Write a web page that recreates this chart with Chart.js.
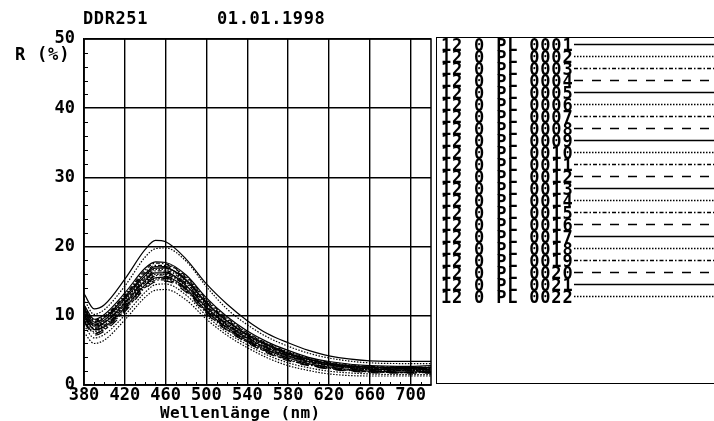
<!DOCTYPE html>
<html>
<head>
<meta charset="utf-8">
<script src="https://cdn.jsdelivr.net/npm/chart.js@4.4.1/dist/chart.umd.min.js"></script>
<style>
  html, body { margin:0; padding:0; background:#fff; }
  #wrap { position:relative; width:714px; height:421px; overflow:hidden; font-family:"DejaVu Sans Mono", monospace; font-weight:bold; color:#000; }
  #c { position:absolute; left:0; top:0; }
  .txt { position:absolute; white-space:pre; font-size:17px; line-height:17px; }
  #legend { position:absolute; left:436px; top:37px; width:300px; height:347px; border:1.5px solid #000; box-sizing:border-box; }
  .row { position:absolute; left:0; height:12px; width:300px; }
  .row span { position:absolute; left:4px; top:0; font-size:17px; line-height:12px; letter-spacing:0.8px; white-space:pre; }
  .row svg { position:absolute; left:137px; top:0; }
</style>
</head>
<body>
<div id="wrap">
  <canvas id="c" width="714" height="421"></canvas>
  <div class="txt" style="left:83px; top:10px; letter-spacing:0.6px;">DDR251</div>
  <div class="txt" style="left:217px; top:10px; letter-spacing:0.6px;">01.01.1998</div>
  <div class="txt" style="left:15px; top:46px; letter-spacing:0.8px;">R (%)</div>
  <div class="txt" style="left:160px; top:404px; font-size:16px; letter-spacing:0.4px;">Wellenlänge (nm)</div>
  <div id="legend"></div>
</div>
<script>
// ---- data ----
const wavelengths = [380, 390, 400, 420, 440, 450, 460, 480, 500, 520, 540, 560, 580, 600, 620, 660, 700, 720];

const seriesLabels = [
  '12 0 PL 0001', '12 0 PL 0002', '12 0 PL 0003', '12 0 PL 0004', '12 0 PL 0005', '12 0 PL 0006',
  '12 0 PL 0007', '12 0 PL 0008', '12 0 PL 0009', '12 0 PL 0010', '12 0 PL 0011', '12 0 PL 0012',
  '12 0 PL 0013', '12 0 PL 0014', '12 0 PL 0015', '12 0 PL 0016', '12 0 PL 0017', '12 0 PL 0018',
  '12 0 PL 0019', '12 0 PL 0020', '12 0 PL 0021', '12 0 PL 0022'
];

const s01 = [13.2, 11.0, 11.6, 15.3, 19.6, 20.9, 20.7, 18.2, 14.6, 11.7, 9.3, 7.4, 6.1, 5.0, 4.2, 3.5, 3.4, 3.4];
const s02 = [12.4, 10.2, 10.9, 14.3, 18.5, 19.7, 19.8, 17.9, 14.2, 11.0, 8.7, 6.9, 5.6, 4.6, 3.9, 3.2, 3.1, 3.1];
const s03 = [11.5, 9.4, 9.9, 12.9, 16.3, 17.3, 17.3, 15.5, 12.2, 9.5, 7.5, 5.9, 4.7, 3.8, 3.2, 2.6, 2.5, 2.5];
const s04 = [11.0, 9.0, 9.6, 12.6, 16.0, 17.1, 17.1, 15.3, 12.0, 9.3, 7.3, 5.8, 4.6, 3.7, 3.1, 2.5, 2.4, 2.4];
const s05 = [10.8, 8.8, 9.4, 12.4, 15.8, 16.9, 16.9, 15.1, 11.8, 9.2, 7.2, 5.7, 4.5, 3.7, 3.1, 2.5, 2.4, 2.5];
const s06 = [10.6, 8.6, 9.2, 12.2, 15.6, 16.7, 16.7, 14.9, 11.6, 9.0, 7.1, 5.6, 4.4, 3.6, 3.0, 2.4, 2.3, 2.3];
const s07 = [10.9, 8.7, 9.1, 12.0, 15.4, 16.5, 16.5, 14.7, 11.5, 8.9, 7.0, 5.5, 4.4, 3.5, 3.0, 2.4, 2.3, 2.4];
const s08 = [10.2, 8.3, 8.9, 11.9, 15.3, 16.3, 16.3, 14.6, 11.3, 8.8, 6.9, 5.4, 4.3, 3.5, 2.9, 2.3, 2.2, 2.2];
const s09 = [10.5, 8.5, 9.0, 11.8, 15.1, 16.2, 16.2, 14.4, 11.2, 8.7, 6.8, 5.3, 4.2, 3.4, 2.9, 2.3, 2.2, 2.3];
const s10 = [10.0, 8.1, 8.7, 11.6, 14.9, 16.0, 16.0, 14.3, 11.1, 8.6, 6.7, 5.2, 4.1, 3.3, 2.8, 2.2, 2.1, 2.1];
const s11 = [10.3, 8.2, 8.6, 11.5, 14.8, 15.8, 15.9, 14.2, 11.0, 8.5, 6.6, 5.2, 4.1, 3.3, 2.8, 2.2, 2.1, 2.2];
const s12 = [9.8, 7.9, 8.5, 11.3, 14.6, 15.7, 15.7, 14.0, 10.8, 8.3, 6.5, 5.0, 3.9, 3.1, 2.6, 2.1, 2.0, 2.0];
const s13 = [10.1, 8.0, 8.4, 11.2, 14.5, 15.5, 15.6, 13.9, 10.7, 8.3, 6.4, 5.0, 3.9, 3.1, 2.6, 2.0, 1.9, 2.0];
const s14 = [9.6, 7.7, 8.2, 11.0, 14.3, 15.3, 15.4, 13.7, 10.6, 8.1, 6.3, 4.8, 3.7, 3.0, 2.5, 1.9, 1.8, 1.8];
const s15 = [9.4, 7.5, 8.0, 10.8, 14.1, 15.1, 15.2, 13.6, 10.4, 8.0, 6.2, 4.7, 3.6, 2.9, 2.4, 1.9, 1.8, 1.9];
const s16 = [9.1, 7.2, 7.8, 10.6, 13.9, 14.9, 15.0, 13.4, 10.3, 7.9, 6.1, 4.6, 3.5, 2.8, 2.3, 1.8, 1.7, 1.7];
const s17 = [11.2, 9.1, 9.7, 12.7, 16.1, 17.1, 17.0, 15.2, 11.9, 9.3, 7.3, 5.8, 4.6, 3.7, 3.1, 2.6, 2.5, 2.5];
const s18 = [8.6, 6.8, 7.3, 10.1, 13.4, 14.5, 14.6, 13.0, 10.0, 7.6, 5.8, 4.3, 3.2, 2.5, 2.0, 1.6, 1.5, 1.5];
const s19 = [11.3, 9.2, 9.9, 13.0, 16.6, 17.6, 17.5, 15.7, 12.4, 9.7, 7.6, 6.0, 4.8, 3.9, 3.3, 2.7, 2.6, 2.6];
const s20 = [9.3, 7.4, 8.1, 11.0, 14.4, 15.4, 15.4, 13.8, 10.6, 8.2, 6.3, 4.8, 3.7, 2.9, 2.4, 1.9, 1.8, 1.8];
const s21 = [11.6, 9.5, 10.2, 13.3, 16.9, 17.8, 17.7, 15.9, 12.6, 9.9, 7.8, 6.2, 5.0, 4.0, 3.4, 2.8, 2.7, 2.8];
const s22 = [7.6, 6.0, 6.5, 9.4, 12.7, 13.7, 13.8, 12.3, 9.5, 7.2, 5.4, 3.9, 2.8, 2.1, 1.6, 1.3, 1.3, 1.3];

const allSeries = [s01, s02, s03, s04, s05, s06, s07, s08, s09, s10, s11, s12, s13, s14, s15, s16, s17, s18, s19, s20, s21, s22];

const xTickValues = [380, 420, 460, 500, 540, 580, 620, 660, 700];
const yTickValues = [0, 10, 20, 30, 40, 50];

// ---- styles ----
const dashCycle = [[], [1.5, 1.5], [4, 2, 1.5, 2], [9, 9]];
const FONT = { family: 'DejaVu Sans Mono', weight: 'bold', size: 17 };

const datasets = allSeries.map((vals, i) => ({
  label: seriesLabels[i],
  data: wavelengths.map((w, j) => ({ x: w, y: vals[j] })),
  borderColor: '#000',
  borderWidth: 1.2,
  borderDash: dashCycle[i % 4],
  pointRadius: 0,
  fill: false,
  cubicInterpolationMode: 'monotone'
}));

const framePlugin = {
  id: 'frame',
  afterDatasetsDraw(chart) {
    const { ctx, chartArea: a, scales } = chart;
    ctx.save();
    ctx.strokeStyle = '#000';
    ctx.lineWidth = 1.5;
    ctx.setLineDash([]);
    ctx.strokeRect(a.left, a.top, a.right - a.left, a.bottom - a.top);
    ctx.lineWidth = 1;
    for (let v = 390; v < 720; v += 10) {
      if ((v - 380) % 40 === 0) continue;
      const px = Math.round(scales.x.getPixelForValue(v)) + 0.5;
      ctx.beginPath(); ctx.moveTo(px, a.bottom); ctx.lineTo(px, a.bottom - 3); ctx.stroke();
    }
    for (let v = 2; v < 50; v += 2) {
      if (v % 10 === 0) continue;
      const py = Math.round(scales.y.getPixelForValue(v)) + 0.5;
      ctx.beginPath(); ctx.moveTo(a.left, py); ctx.lineTo(a.left + 4, py); ctx.stroke();
    }
    ctx.restore();
  }
};

new Chart(document.getElementById('c'), {
  type: 'line',
  data: { datasets },
  options: {
    responsive: false,
    animation: false,
    devicePixelRatio: 1,
    layout: { padding: { left: 0, right: 283, top: 39, bottom: 0 } },
    plugins: { legend: { display: false }, tooltip: { enabled: false }, title: { display: false } },
    scales: {
      x: {
        type: 'linear', min: 380, max: 720,
        afterBuildTicks: s => { s.ticks = xTickValues.map(v => ({ value: v })); },
        afterFit: s => { s.height = 36; },
        grid: { color: '#000', lineWidth: 1.4, drawTicks: false },
        border: { color: '#000', width: 1.5 },
        ticks: { font: FONT, color: '#000', padding: 0, maxRotation: 0, autoSkip: false, callback: v => String(v) }
      },
      y: {
        type: 'linear', min: 0, max: 50,
        afterBuildTicks: s => { s.ticks = yTickValues.map(v => ({ value: v })); },
        afterFit: s => { s.width = 84; },
        grid: { color: '#000', lineWidth: 1.4, drawTicks: false },
        border: { color: '#000', width: 1.5 },
        ticks: { font: FONT, color: '#000', padding: 9, callback: v => String(v) }
      }
    }
  },
  plugins: [framePlugin]
});

// ---- legend (HTML) ----
const legend = document.getElementById('legend');
datasets.forEach((ds, i) => {
  const row = document.createElement('div');
  row.className = 'row';
  row.style.top = (1 + 12 * i) + 'px';
  const span = document.createElement('span');
  span.textContent = ds.label;
  row.appendChild(span);
  const svgNS = 'http://www.w3.org/2000/svg';
  const svg = document.createElementNS(svgNS, 'svg');
  svg.setAttribute('width', '160'); svg.setAttribute('height', '12');
  const ln = document.createElementNS(svgNS, 'line');
  ln.setAttribute('x1', '0'); ln.setAttribute('x2', '160');
  ln.setAttribute('y1', '5.5'); ln.setAttribute('y2', '5.5');
  ln.setAttribute('stroke', '#000'); ln.setAttribute('stroke-width', '1.3');
  if (ds.borderDash.length) ln.setAttribute('stroke-dasharray', ds.borderDash.join(','));
  svg.appendChild(ln);
  row.appendChild(svg);
  legend.appendChild(row);
});
</script>
</body>
</html>
